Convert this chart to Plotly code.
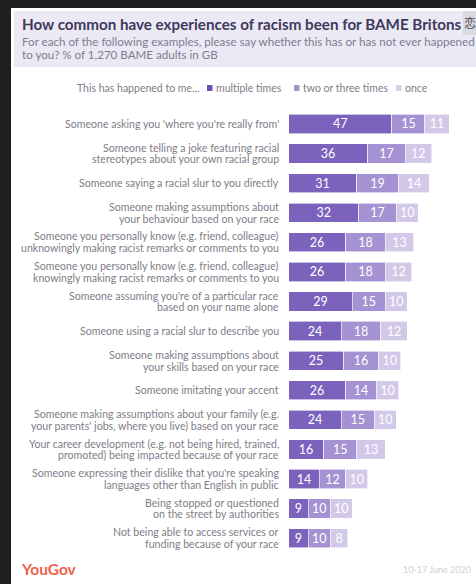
import plotly.graph_objects as go

categories = [
    "Someone asking you 'where you're really from'",
    "Someone telling a joke featuring racial<br>stereotypes about your own racial group",
    "Someone saying a racial slur to you directly",
    "Someone making assumptions about<br>your behaviour based on your race",
    "Someone you personally know (e.g. friend, colleague)<br>unknowingly making racist remarks or comments to you",
    "Someone you personally know (e.g. friend, colleague)<br>knowingly making racist remarks or comments to you",
    "Someone assuming you're of a particular race<br>based on your name alone",
    "Someone using a racial slur to describe you",
    "Someone making assumptions about<br>your skills based on your race",
    "Someone imitating your accent",
    "Someone making assumptions about your family (e.g.<br>your parents' jobs, where you live) based on your race",
    "Your career development (e.g. not being hired, trained,<br>promoted) being impacted because of your race",
    "Someone expressing their dislike that you're speaking<br>languages other than English in public",
    "Being stopped or questioned<br>on the street by authorities",
    "Not being able to access services or<br>funding because of your race",
]
multiple_times = [47, 36, 31, 32, 26, 26, 29, 24, 25, 26, 24, 16, 14, 9, 9]
two_or_three_times = [15, 17, 19, 17, 18, 18, 15, 18, 16, 14, 15, 15, 12, 10, 10]
once = [11, 12, 14, 10, 13, 12, 10, 12, 10, 10, 10, 13, 10, 10, 8]

W, H = 476, 584
FONT = "Lato"
GREY = "#807d88"
LINE_GAP = 11.7


def px(x):
    return x / W


def py(y):
    return 1 - y / H


fig = go.Figure()
for name, vals, col in [
    ("multiple times", multiple_times, "#7b62bd"),
    ("two or three times", two_or_three_times, "#a592d2"),
    ("once", once, "#d2c9e8"),
]:
    fig.add_trace(go.Bar(
        y=categories, x=vals, name=name, orientation="h",
        marker=dict(color=col, line=dict(color="white", width=0.6)),
        text=vals, textposition="inside", insidetextanchor="middle",
        textangle=0, constraintext="none",
        textfont=dict(color="white", family=FONT, size=12.5),
        showlegend=False,
    ))

shapes = [
    # page frame
    dict(type="rect", xref="paper", yref="paper", x0=0, x1=px(11), y0=0, y1=1,
         fillcolor="#1e1e1e", line_width=0, layer="below"),
    dict(type="rect", xref="paper", yref="paper", x0=0, x1=1, y0=py(8), y1=1,
         fillcolor="#1e1e1e", line_width=0, layer="below"),
    # header band and the small box at its right end
    dict(type="rect", xref="paper", yref="paper", x0=px(14), x1=1, y0=py(67), y1=py(11),
         fillcolor="#ebe9f4", line_width=0, layer="below"),
    dict(type="rect", xref="paper", yref="paper", x0=px(463), x1=1, y0=py(35), y1=py(11),
         fillcolor="#dbdae0", line_width=0, layer="below"),
]

# legend swatches
for x0, col in [(207, "#6c50b8"), (294, "#a592d2"), (396, "#d8d1ec")]:
    shapes.append(dict(type="rect", xref="paper", yref="paper",
                       x0=px(x0), x1=px(x0 + 5.5), y0=py(91), y1=py(85),
                       fillcolor=col, line_width=0))


def note(x, y, text, size, color, anchor="left", bold=False):
    return dict(xref="paper", yref="paper", x=px(x), y=py(y), text=f"<b>{text}</b>" if bold else text,
                showarrow=False, xanchor=anchor, yanchor="middle", align=anchor,
                font=dict(family=FONT, size=size, color=color))


annotations = [
    note(20, 24, "How common have experiences of racism been for BAME Britons", 15.2, "#3f3a5c", bold=True),
    note(20, 42, "For each of the following examples, please say whether this has or has not ever happened", 11.6, "#7f7c92"),
    note(20, 55, "to you? % of 1,270 BAME adults in GB", 11.6, "#7f7c92"),
    note(75, 88, "This has happened to me...", 10.5, GREY),
    note(214, 88, "multiple times", 10.5, GREY),
    note(301, 88, "two or three times", 10.5, GREY),
    note(403, 88, "once", 10.5, GREY),
    note(19, 569, "YouGov", 15.5, "#f0604c", bold=True),
    note(473, 569, "10-17 June 2020", 9, "#cfcfd4", anchor="right"),
]
annotations.append(dict(xref="paper", yref="paper", x=px(470), y=py(23), text="恋",
                        showarrow=False, xanchor="center", yanchor="middle",
                        font=dict(family="Noto Sans CJK SC", size=12, color="#4a4a55")))

# Row labels sit on the category axis, one annotation per line for tight leading
for cat in categories:
    lines = cat.split("<br>")
    for i, line in enumerate(lines):
        offset = ((len(lines) - 1) / 2 - i) * LINE_GAP
        annotations.append(dict(
            xref="paper", yref="y", x=px(281), y=cat, yshift=offset, text=line,
            showarrow=False, xanchor="right", yanchor="middle",
            font=dict(family=FONT, size=10.6, color=GREY),
        ))

fig.update_layout(
    width=W, height=H, autosize=False,
    margin=dict(l=0, r=0, t=0, b=0),
    paper_bgcolor="white", plot_bgcolor="white",
    barmode="stack", bargap=0.35,
    font=dict(family=FONT),
    shapes=shapes, annotations=annotations,
    xaxis=dict(domain=[px(288.5), 1], range=[0, (W - 288.5) / 2.2],
               visible=False, fixedrange=True),
    yaxis=dict(domain=[py(553), py(109.2)], autorange="reversed",
               showticklabels=False, ticks="",
               showgrid=False, zeroline=False, showline=False),
)

fig.write_html("out.html", config={"displayModeBar": False})
